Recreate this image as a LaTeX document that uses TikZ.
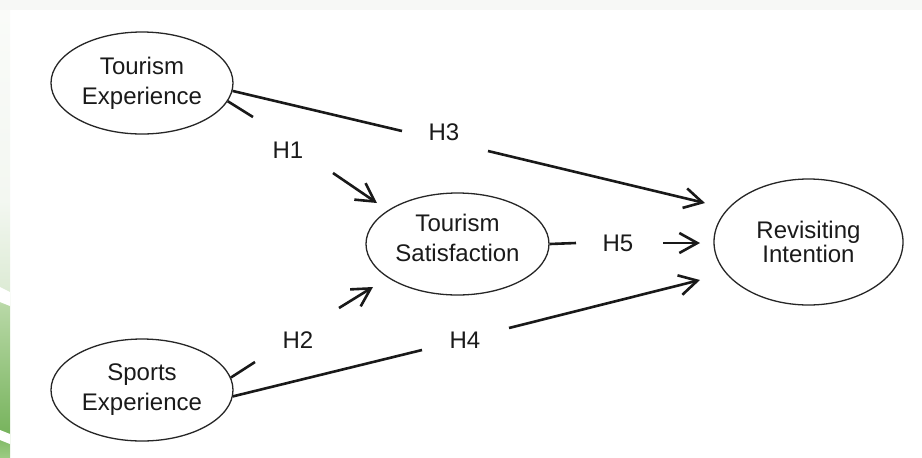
\documentclass[tikz,border=0pt]{standalone}
\usepackage{fontspec}
\setmainfont{Liberation Sans}
\usetikzlibrary{arrows.meta,shapes.geometric}
\definecolor{txt}{HTML}{1A1A1A}
\definecolor{edge}{HTML}{F7F8F6}
\definecolor{sA}{HTML}{FAFBF9}
\definecolor{sB}{HTML}{F3F7F1}
\definecolor{sC}{HTML}{DDEBD5}
\definecolor{sD}{HTML}{B8D8A6}
\definecolor{sE}{HTML}{78B45E}
\definecolor{sF}{HTML}{9CCB82}
\pgfdeclareverticalshading{stripshade}{100bp}{%
  color(0bp)=(sF); color(25bp)=(sF); color(27.8bp)=(sE); color(42bp)=(sD);
  color(43.7bp)=(sC); color(53.7bp)=(sB); color(75bp)=(sA); color(100bp)=(sA)}
\begin{document}
\begin{tikzpicture}[x=0.5pt,y=-0.5pt,
  construct/.style={ellipse,draw=black!85,line width=0.65pt,inner sep=0pt,align=center,text=txt},
  conn/.style={line width=1.3pt,draw=black!90},
  arr/.style={conn,-{Straight Barb[length=9pt,width=10pt]}},
  hyp/.style={text=txt,font=\fontsize{12}{14}\selectfont,inner sep=0pt}]
\useasboundingbox (0,0) rectangle (922,457);
% background frame
\fill[edge] (0,0) rectangle (922,457);
\fill[white] (10,10) rectangle (922,457);
\shade[shading=stripshade] (0,10) rectangle (10,457);
\fill[white] (0,287) -- (10,292) -- (10,306) -- (0,302) -- cycle;
\fill[white] (0,430) -- (10,434) -- (10,444) -- (0,440) -- cycle;

% constructs
\node[construct,minimum width=91pt,minimum height=51pt,font=\fontsize{12}{15}\selectfont] (te) at (142,83) {Tourism\\Experience};
\node[construct,minimum width=91pt,minimum height=51pt,font=\fontsize{12}{15}\selectfont] (se) at (142,390) {Sports\\Experience};
\node[construct,minimum width=91.5pt,minimum height=51pt,font=\fontsize{12}{15}\selectfont] (ts) at (457.5,244) {Tourism\\Satisfaction\rule[-6pt]{0pt}{0pt}};
\node[construct,minimum width=94.5pt,minimum height=63pt,font=\fontsize{12}{12}\selectfont] (ri) at (808.5,242) {Revisiting\\Intention};

% hypothesis labels
\node[hyp] (h1) at (288,150) {H1};
\node[hyp] (h2) at (298,340) {H2};
\node[hyp] (h3) at (444,132) {H3};
\node[hyp] (h4) at (465,340) {H4};
\node[hyp] (h5) at (618,243) {H5};

% gap ends and arrow ends
\coordinate (h1a) at (253,117); \coordinate (h1b) at (333,173); \coordinate (h1t) at (377,203);
\coordinate (h3a) at (402,131); \coordinate (h3b) at (488,151); \coordinate (h3t) at (705,203);
\coordinate (h2a) at (255,362); \coordinate (h2b) at (339,308); \coordinate (h2t) at (373,287);
\coordinate (h4a) at (422,350); \coordinate (h4b) at (509,328); \coordinate (h4t) at (700,280);
\coordinate (h5a) at (576,243); \coordinate (h5b) at (663,243); \coordinate (h5t) at (700,243);

% connectors
\draw[conn] (te.-12) -- (h1a);
\draw[arr] (h1b) -- (h1t);
\draw[conn] (te.-5) -- (h3a);
\draw[arr] (h3b) -- (h3t);
\draw[conn] (se.8) -- (h2a);
\draw[arr] (h2b) -- (h2t);
\draw[conn] (se.-4) -- (h4a);
\draw[arr] (h4b) -- (h4t);
\draw[conn] (ts.east) -- (h5a);
\draw[arr] (h5b) -- (h5t);
\end{tikzpicture}
\end{document}
